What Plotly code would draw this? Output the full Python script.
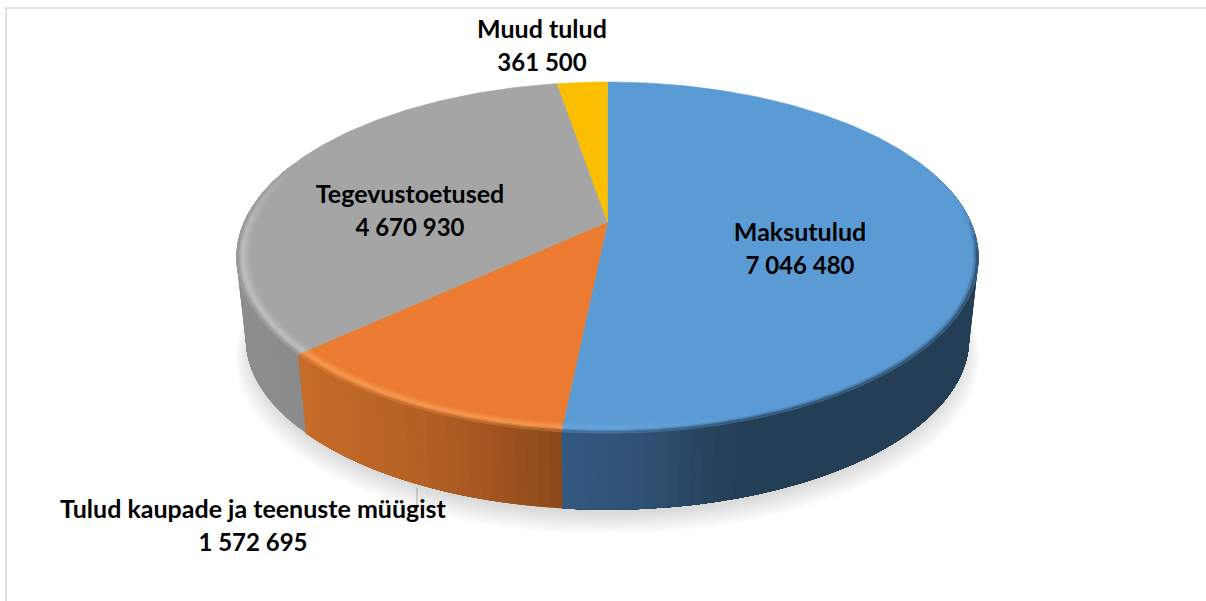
import numpy as np
import plotly.graph_objects as go

# ---- data ----
categories = ["Maksutulud", "Tulud kaupade ja teenuste müügist", "Tegevustoetused", "Muud tulud"]
values = [7046480, 1572695, 4670930, 361500]

# ---- style ----
top_colors = ["#5B9BD5", "#EB7B30", "#A5A5A5", "#FBBF00"]
side_stops = [
    [(563, "#35597F"), (640, "#2E5174"), (740, "#243E55"), (990, "#243E55")],
    [(300, "#C76C28"), (420, "#B56024"), (500, "#A0541F"), (563, "#8A481B")],
    [(230, "#8E8E8E"), (310, "#8A8A8A")],
    [(500, "#B58A00"), (620, "#B58A00")],
]
rim_glow = ["#68A6DE", "#F79A52", "#BEBEBE", "#FBBF00"]
label_xy = [(800, 232), (253, 509), (410, 194), (542, 29)]
line_gap = 33
font_size = 25
number_size = 24
text_drop = 3
frame_color = "#D9D9D9"

# ---- projection of the disk onto the picture ----
CX, APEX_Y, A, B, K = 607.5, 222.0, 168.3, 363.3, 0.2023
SIDE_SCALE, SIDE_APEX_Y = 0.975, 304.0


def project(theta, r=1.0, scale=1.0, apex=APEX_Y):
    u, v = r * np.sin(theta), r * np.cos(theta)
    w = 1 + K * v
    return CX + scale * B * u / w, apex - scale * A * v / w


def to_rgb(c):
    return np.array([int(c[i:i + 2], 16) for i in (1, 3, 5)], dtype=float)


def to_hex(rgb):
    return "#%02X%02X%02X" % tuple(int(round(max(0, min(255, x)))) for x in rgb)


def mix(a, b, t):
    return to_rgb(a) * (1 - t) + to_rgb(b) * t


def side_color(i, x):
    stops = side_stops[i]
    xs = [s[0] for s in stops]
    return np.array([np.interp(x, xs, [to_rgb(s[1])[c] for s in stops]) for c in range(3)])


traces = []


def poly(xs, ys, color, width=0.6):
    traces.append(go.Scatter(x=list(xs), y=list(ys), mode="lines", fill="toself", fillcolor=color,
                             line=dict(color=color, width=width), hoverinfo="skip", showlegend=False))


# angular extent of every slice, clockwise from the top
total = sum(values)
edges = np.concatenate([[0], np.cumsum(values) / total]) * 2 * np.pi
full = np.linspace(0, 2 * np.pi, 361)

# soft shadow under the disk
for n in range(9):
    sx, sy = project(full, r=1.0 + 0.0025 * n, scale=SIDE_SCALE - 0.012 + 0.0025 * n, apex=SIDE_APEX_Y + 7 + 1.3 * n)
    traces.append(go.Scatter(x=sx, y=sy, mode="lines", fill="toself", fillcolor="rgba(0,0,0,0.017)",
                             line=dict(width=0), hoverinfo="skip", showlegend=False))

# wall of the disk: each panel reaches to the end of its slice and the next one paints over it
for i in range(len(values)):
    lo, hi = max(edges[i], np.radians(70)), min(edges[i + 1], np.radians(290))
    if hi <= lo:
        continue
    steps = max(1, int(np.degrees(hi - lo) / 1.5))
    th = np.linspace(lo, hi, steps + 1)
    for a, b in zip(th[:-1], th[1:]):
        seg = np.linspace(a, hi, max(3, int(np.degrees(hi - a) / 3) + 2))
        x1, y1 = project(seg)
        x2, y2 = project(seg[::-1], scale=SIDE_SCALE, apex=SIDE_APEX_Y)
        xa = project((a + b) / 2)[0]
        xb = project((a + b) / 2, scale=SIDE_SCALE)[0]
        traces.append(go.Scatter(x=np.r_[x1, x2, x1[0]], y=np.r_[y1, y2, y1[0]], mode="lines", fill="toself",
                                 fillcolor=to_hex(side_color(i, (xa + xb) / 2)), line=dict(width=0),
                                 hoverinfo="skip", showlegend=False))

# top faces
for i in range(len(values)):
    arc = np.linspace(edges[i], edges[i + 1], max(3, int(np.degrees(edges[i + 1] - edges[i]))))
    x, y = project(arc)
    poly(np.r_[CX, x, CX], np.r_[APEX_Y, y, APEX_Y], top_colors[i])

# rounded rim along the near edge
bands = np.linspace(0.965, 1.0, 7)
for i in range(len(values)):
    lo, hi = max(edges[i], np.radians(86)), min(edges[i + 1], np.radians(292))
    if hi <= lo:
        continue
    steps = max(1, int(np.degrees(hi - lo) / 4))
    th = np.linspace(lo, hi, steps + 1)
    for a, b in zip(th[:-1], th[1:]):
        seg = np.linspace(a, b, 4)
        mid = (a + b) / 2
        xm = project(mid)[0]
        fade = np.clip((np.radians(292) - mid) / np.radians(30), 0, 1) * np.clip((mid - np.radians(86)) / np.radians(14), 0, 1)
        glow = np.clip((760 - xm) / 160, 0, 1)
        for j in range(len(bands) - 1):
            t = (j + 0.5) / (len(bands) - 1)
            base = to_rgb(top_colors[i])
            peak = mix(rim_glow[i], to_hex(base), 1 - glow)
            wall = side_color(i, xm)
            if t < 0.55:
                col = base + (peak - base) * (t / 0.55)
            else:
                col = peak + (wall - peak) * ((t - 0.55) / 0.45) ** 1.5
            col = base + (col - base) * fade
            x1, y1 = project(seg, r=bands[j])
            x2, y2 = project(seg[::-1], r=bands[j + 1])
            poly(np.r_[x1, x2, x1[0]], np.r_[y1, y2, y1[0]], to_hex(col))

# labels
for name, value, (lx, ly) in zip(categories, values, label_xy):
    number = f"{value:,}".replace(",", " ")
    for txt, yy, size in ((name, ly + text_drop, font_size), (number, ly + line_gap + text_drop, number_size)):
        traces.append(go.Scatter(x=[lx], y=[yy], text=[txt], mode="text", textposition="middle center",
                                 textfont=dict(family="Lato", size=size, color="#000000", weight="bold"),
                                 hoverinfo="skip", showlegend=False))

fig = go.Figure(traces)

# leader line and frame
fig.add_shape(type="line", x0=417, x1=417, y0=488, y1=520, line=dict(color="#BFBFBF", width=1), layer="below")
fig.add_shape(type="rect", x0=6, x1=1260, y0=8, y1=640, line=dict(color=frame_color, width=1.6), layer="below")

fig.update_layout(
    width=1206, height=601, margin=dict(l=0, r=0, t=0, b=0),
    paper_bgcolor="white", plot_bgcolor="white", showlegend=False,
    xaxis=dict(range=[0, 1206], visible=False, fixedrange=True),
    yaxis=dict(range=[601, 0], visible=False, fixedrange=True),
)
fig.write_html("out.html", config=dict(displayModeBar=False),
               post_script="document.body.style.margin='0';document.body.style.overflow='hidden';")
